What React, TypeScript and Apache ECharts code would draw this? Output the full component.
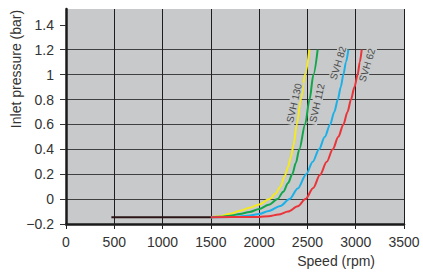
import React, { useEffect, useRef } from "react";
import * as echarts from "echarts";

// Flat suction line (all pumps below 1500 rpm)
const flatSpeed = [470, 1500];
const flatPressure = [-0.145, -0.145];

// SVH 130 (yellow)
const svh130Speed = [1500, 1600, 1700, 1800, 1900, 2000, 2110, 2170, 2220, 2268, 2300, 2330, 2355, 2390, 2432, 2475, 2520];
const svh130Pressure = [-0.145, -0.137, -0.118, -0.094, -0.07, -0.043, 0.0, 0.045, 0.1, 0.19, 0.26, 0.34, 0.43, 0.6, 0.8, 1.0, 1.2];

// SVH 112 (green)
const svh112Speed = [1500, 1600, 1700, 1800, 1900, 2000, 2100, 2190, 2250, 2300, 2343, 2380, 2416, 2476, 2522, 2562, 2606];
const svh112Pressure = [-0.145, -0.142, -0.133, -0.12, -0.103, -0.08, -0.045, 0.0, 0.06, 0.13, 0.2, 0.29, 0.4, 0.6, 0.8, 1.0, 1.2];

// SVH 82 (blue)
const svh82Speed = [1500, 1700, 1800, 1900, 2000, 2100, 2220, 2315, 2400, 2487, 2555, 2620, 2680, 2735, 2778, 2815, 2845, 2872, 2899, 2924];
const svh82Pressure = [-0.145, -0.143, -0.14, -0.132, -0.12, -0.095, -0.055, 0.0, 0.085, 0.2, 0.3, 0.4, 0.5, 0.6, 0.7, 0.8, 0.9, 1.0, 1.1, 1.2];

// SVH 62 (red)
const svh62Speed = [1500, 1900, 2000, 2100, 2200, 2300, 2400, 2480, 2560, 2630, 2700, 2762, 2820, 2872, 2915, 2951, 2987, 3020, 3042, 3062];
const svh62Pressure = [-0.145, -0.144, -0.143, -0.137, -0.124, -0.1, -0.058, 0.0, 0.09, 0.195, 0.3, 0.4, 0.5, 0.6, 0.7, 0.8, 0.9, 1.0, 1.1, 1.2];

// Curve labels
const labelNames = ["SVH 130", "SVH 112", "SVH 82", "SVH 62"];
const labelSpeed = [2361, 2599, 2817, 3117];
const labelPressure = [0.772, 0.772, 1.093, 1.077];
const labelAngle = [77, 77, 73, 73];

const yTicks = [-0.2, 0, 0.2, 0.4, 0.6, 0.8, 1, 1.2, 1.4];

const zip = (xs: number[], ys: number[]) => xs.map((x, i) => [x, ys[i]]);

const PLOT_BG = "#c7c9ca";
const FONT = "Liberation Sans, Arial, Helvetica, sans-serif";

export default function App() {
  const ref = useRef<HTMLDivElement>(null);

  useEffect(() => {
    document.body.style.margin = "0";
    const chart = echarts.init(ref.current!, null, { renderer: "svg" });

    const curve = (name: string, xs: number[], ys: number[], color: string, idx: number) => ({
      name,
      type: "line",
      data: zip(xs, ys),
      smooth: 0.3,
      smoothMonotone: "x",
      showSymbol: false,
      lineStyle: { color, width: 2 },
      z: 3 + idx,
      markPoint: {
        symbol: "circle",
        symbolSize: 1,
        itemStyle: { color: "rgba(0,0,0,0)" },
        data: [
          {
            coord: [labelSpeed[idx], labelPressure[idx]],
            label: {
              show: true,
              position: "inside",
              formatter: labelNames[idx],
              rotate: labelAngle[idx],
              color: "#4a4a4a",
              fontSize: 10,
              fontFamily: FONT,
              backgroundColor: PLOT_BG,
              padding: [0, 2],
            },
          },
        ],
      },
    });

    chart.setOption({
      animation: false,
      grid: {
        left: 66,
        right: 19,
        top: 9,
        bottom: 49,
        show: true,
        backgroundColor: PLOT_BG,
        borderWidth: 0,
      },
      xAxis: {
        type: "value",
        min: 0,
        max: 3500,
        interval: 500,
        axisLine: { show: true, onZero: false, lineStyle: { color: "#1a1a1a", width: 2.5 } },
        axisTick: { show: true, length: 5, lineStyle: { color: "#222", width: 1 } },
        axisLabel: {
          color: "#333",
          fontSize: 14,
          fontFamily: FONT,
          margin: 11,
          formatter: (v: number) => String(v),
        },
        splitLine: {
          show: true,
          showMinLine: false,
          showMaxLine: true,
          lineStyle: {
            color: ["#1e1e1e", "#1e1e1e", "#1e1e1e", "#1e1e1e", "#1e1e1e", "#1e1e1e", "#1e1e1e", "#6a6a6a"],
            width: 1,
          },
        },
      },
      yAxis: {
        type: "value",
        min: -0.2,
        max: 1.527,
        interval: 0.2,
        axisLine: { show: true, onZero: false, lineStyle: { color: "#1a1a1a", width: 2.5 } },
        axisTick: { show: true, length: 6, customValues: yTicks, lineStyle: { color: "#333", width: 1 } },
        axisLabel: {
          color: "#333",
          fontSize: 14,
          fontFamily: FONT,
          margin: 12,
          customValues: yTicks,
          formatter: (v: number) => {
            const r = Math.round(v * 10) / 10;
            return String(r).replace("-", "\u2212");
          },
        },
        splitLine: {
          show: true,
          showMinLine: true,
          showMaxLine: false,
          lineStyle: { color: "#404040", width: 1 },
        },
      },
      graphic: [
        {
          type: "text",
          x: 16,
          y: 69,
          rotation: Math.PI / 2,
          style: {
            text: "Inlet pressure (bar)",
            fill: "#333",
            font: `14px ${FONT}`,
            textAlign: "center",
            textVerticalAlign: "middle",
          },
        },
        {
          type: "text",
          right: 48,
          top: 254,
          style: {
            text: "Speed (rpm)",
            fill: "#333",
            font: `14px ${FONT}`,
          },
        },
      ],
      series: [
        curve("SVH 130", svh130Speed, svh130Pressure, "#f4ea1f", 0),
        curve("SVH 112", svh112Speed, svh112Pressure, "#12a64a", 1),
        curve("SVH 82", svh82Speed, svh82Pressure, "#1cb0e8", 2),
        curve("SVH 62", svh62Speed, svh62Pressure, "#ea3439", 3),
        {
          name: "flat",
          type: "line",
          data: zip(flatSpeed, flatPressure),
          showSymbol: false,
          lineStyle: { color: "#2a1416", width: 2 },
          z: 10,
        },
      ],
    });

    return () => chart.dispose();
  }, []);

  return <div ref={ref} style={{ width: 423, height: 273 }} />;
}
